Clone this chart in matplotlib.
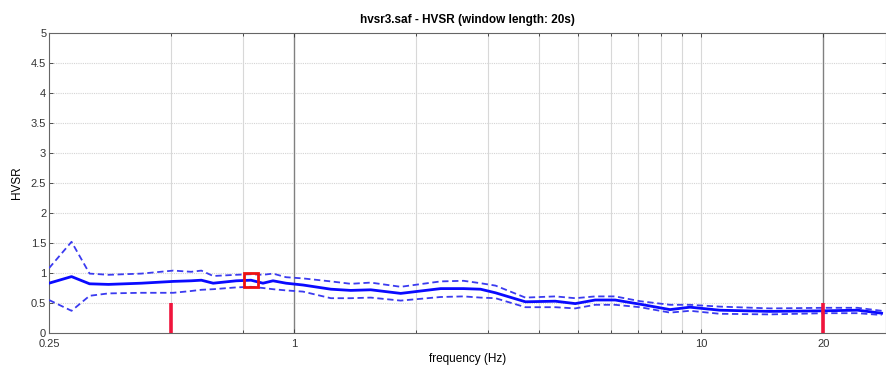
import numpy as np
import matplotlib
matplotlib.use('Agg')
import matplotlib.pyplot as plt
from matplotlib.ticker import FixedLocator, NullFormatter

# HVSR curve: average and +/- one standard deviation
freq = [0.25, 0.284, 0.3145, 0.350, 0.4217, 0.505, 0.559, 0.592, 0.633, 0.721,
        0.784, 0.839, 0.888, 0.956, 1.052, 1.232, 1.379, 1.544, 1.829, 2.293,
        2.61, 2.873, 3.127, 3.704, 4.386, 4.911, 5.498, 6.155, 7.088, 8.395,
        9.40, 11.13, 14.76, 20.13, 24.26, 27.8]
hv_mean = [0.83, 0.94, 0.82, 0.81, 0.83, 0.86, 0.87, 0.88, 0.83, 0.87,
           0.88, 0.83, 0.87, 0.83, 0.80, 0.73, 0.71, 0.72, 0.66, 0.74,
           0.74, 0.73, 0.67, 0.52, 0.53, 0.49, 0.55, 0.55, 0.48, 0.39,
           0.43, 0.38, 0.36, 0.37, 0.38, 0.33]
hv_upper = [1.08, 1.52, 0.99, 0.97, 0.99, 1.04, 1.02, 1.04, 0.95, 0.97,
            0.98, 0.97, 0.99, 0.93, 0.91, 0.86, 0.82, 0.84, 0.77, 0.86,
            0.87, 0.83, 0.79, 0.59, 0.61, 0.58, 0.61, 0.61, 0.53, 0.47,
            0.47, 0.44, 0.41, 0.42, 0.42, 0.37]
hv_lower = [0.55, 0.37, 0.62, 0.66, 0.67, 0.67, 0.70, 0.72, 0.73, 0.76,
            0.77, 0.75, 0.73, 0.71, 0.69, 0.58, 0.58, 0.59, 0.54, 0.60,
            0.61, 0.59, 0.58, 0.43, 0.43, 0.41, 0.47, 0.47, 0.43, 0.34,
            0.37, 0.32, 0.31, 0.33, 0.33, 0.30]

# peak marker and frequency-window limits
peak_f, peak_hv = 0.784, 0.88
limit_f = [0.5, 20]
limit_h = 0.5
range_lines = [1, 20]

xticks = [0.25, 1, 10, 20]
xtick_labels = ['0.25', '1', '10', '20']
minor_grid = [0.5, 0.75, 2, 3, 4, 5, 6, 7, 8, 9, 10]
yticks = np.arange(0, 5.01, 0.5)
ytick_labels = ['0', '0.5', '1', '1.5', '2', '2.5', '3', '3.5', '4', '4.5', '5']

plt.rcParams['font.family'] = ['Liberation Sans', 'DejaVu Sans']

fig = plt.figure(figsize=(8.87, 3.65), dpi=100)
ax = fig.add_axes([49/887, 32/365, 837/887, 300/365])
ax.set_xscale('log')
ax.set_xlim(0.25, 28.5)
ax.set_ylim(0, 5)

# grid
for y in yticks[1:-1]:
    ax.axhline(y, color='#d4d4d4', lw=0.8, ls=(0, (1, 1)), zorder=0)
for f in minor_grid:
    ax.axvline(f, color='#d8d8d8', lw=0.8, zorder=0)
for f in range_lines:
    ax.axvline(f, color='#808080', lw=1.0, zorder=1)

ax.plot(freq, hv_upper, color='#3b3bf0', lw=1.3, ls=(0, (3.5, 2)), zorder=3)
ax.plot(freq, hv_lower, color='#3b3bf0', lw=1.3, ls=(0, (3.5, 2)), zorder=3)
ax.plot(freq, hv_mean, color='#0a0aff', lw=2.0, zorder=4)

ax.vlines(limit_f, 0, limit_h, color='#f0143c', lw=2.6, zorder=5)
ax.plot([peak_f], [peak_hv], marker='s', ms=10, mfc='none', mec='#ee1111', mew=2.0, zorder=6)

ax.xaxis.set_major_locator(FixedLocator(xticks))
ax.set_xticklabels(xtick_labels)
ax.xaxis.set_minor_locator(FixedLocator(minor_grid))
ax.xaxis.set_minor_formatter(NullFormatter())
ax.set_yticks(yticks)
ax.set_yticklabels(ytick_labels)
ax.tick_params(axis='both', which='both', direction='in', top=True, right=True,
               labelsize=8, colors='#333333', length=3, width=0.6, pad=2)
ax.tick_params(axis='x', which='major', pad=4)
ax.tick_params(axis='both', which='minor', length=2)
for s in ax.spines.values():
    s.set_color('#666666')
    s.set_linewidth(0.8)

ax.set_title('hvsr3.saf - HVSR (window length: 20s)', fontsize=8.5, fontweight='bold', pad=7)
ax.set_xlabel('frequency (Hz)', fontsize=8.5, labelpad=3)
ax.set_ylabel('HVSR', fontsize=8.5, labelpad=6)

fig.savefig('out.png', dpi=100)
